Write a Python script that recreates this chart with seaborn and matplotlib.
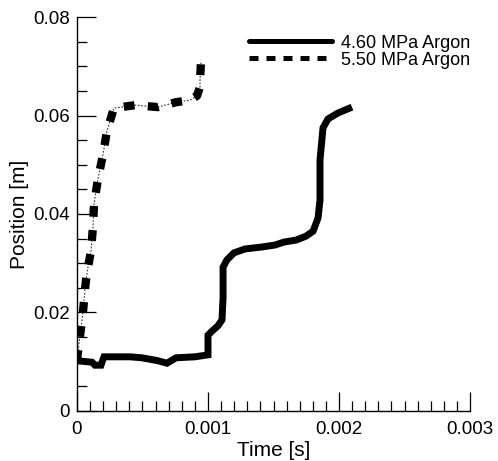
import matplotlib
matplotlib.use("Agg")
import matplotlib.pyplot as plt
from matplotlib.lines import Line2D
from matplotlib.ticker import FixedLocator, MultipleLocator
import seaborn as sns
import pandas as pd

# ---- data ----
t_460 = [0.0, 0.000115, 0.000137, 0.000183, 0.000206, 0.000405, 0.000496, 0.000618,
         0.000687, 0.000756, 0.000901, 0.001000, 0.001000, 0.001038, 0.001076, 0.001107,
         0.001115, 0.001115, 0.001145, 0.001198, 0.001282, 0.001412, 0.001511, 0.001580,
         0.001672, 0.001748, 0.001802, 0.001840, 0.001855, 0.001855, 0.001878, 0.001916,
         0.001992, 0.002099]
pos_460 = [0.0102, 0.0099, 0.0093, 0.0093, 0.0110, 0.0110, 0.0108, 0.0102,
           0.0097, 0.0108, 0.0110, 0.0114, 0.0154, 0.0164, 0.0173, 0.0185,
           0.0231, 0.0292, 0.0307, 0.0321, 0.0329, 0.0333, 0.0337, 0.0343,
           0.0347, 0.0355, 0.0365, 0.0392, 0.0428, 0.0510, 0.0575, 0.0593,
           0.0605, 0.0617]

t_550 = [0.0, 0.0000076, 0.0000229, 0.0000458, 0.000061, 0.000069, 0.000084, 0.000107,
         0.000122, 0.000130, 0.000160, 0.000198, 0.000229, 0.000282, 0.000443, 0.000618,
         0.000756, 0.000863, 0.000916, 0.000939, 0.000939, 0.000947]
pos_550 = [0.0102, 0.0120, 0.0152, 0.0201, 0.0246, 0.0266, 0.0292, 0.0325,
           0.0374, 0.0420, 0.0471, 0.0520, 0.0569, 0.0615, 0.0621, 0.0617,
           0.0627, 0.0631, 0.0640, 0.0658, 0.0672, 0.0711]

labels = ["4.60 MPa Argon", "5.50 MPa Argon"]
x_ticks = [0.0, 0.001, 0.002, 0.003]
x_tick_labels = ["0", "0.001", "0.002", "0.003"]
y_ticks = [0.0, 0.02, 0.04, 0.06, 0.08]
y_tick_labels = ["0", "0.02", "0.04", "0.06", "0.08"]
x_label = "Time [s]"
y_label = "Position [m]"

df_a = pd.DataFrame({"t": t_460, "pos": pos_460})
df_b = pd.DataFrame({"t": t_550, "pos": pos_550})

# ---- style ----
sns.set_style("ticks")
plt.rcParams["font.family"] = ["Liberation Sans", "DejaVu Sans"]
plt.rcParams["font.size"] = 13
plt.rcParams["text.color"] = "black"
plt.rcParams["axes.labelcolor"] = "black"
plt.rcParams["xtick.color"] = "black"
plt.rcParams["ytick.color"] = "black"

fig = plt.figure(figsize=(4.98, 4.61), dpi=100)
ax = fig.add_axes([0.1546, 0.1085, 0.7892, 0.8546])

sns.lineplot(data=df_a, x="t", y="pos", sort=False, estimator=None, ax=ax,
             color="black", linewidth=5.0, solid_joinstyle="miter",
             solid_capstyle="butt")
sns.lineplot(data=df_b, x="t", y="pos", sort=False, estimator=None, ax=ax,
             color="#333333", linewidth=0.8, linestyle=(0, (1.5, 1.5)))
sns.lineplot(data=df_b, x="t", y="pos", sort=False, estimator=None, ax=ax,
             color="black", linewidth=6.0, linestyle=(0, (1.3, 1.6)),
             dash_capstyle="butt")

ax.set_xlim(x_ticks[0], x_ticks[-1])
ax.set_ylim(y_ticks[0], y_ticks[-1])
ax.xaxis.set_major_locator(FixedLocator(x_ticks))
ax.set_xticklabels(x_tick_labels)
ax.yaxis.set_major_locator(FixedLocator(y_ticks))
ax.set_yticklabels(y_tick_labels)
ax.xaxis.set_minor_locator(MultipleLocator(0.0001))
ax.yaxis.set_minor_locator(MultipleLocator(0.005))

ax.tick_params(which="major", direction="in", length=13.5, width=0.9,
               labelsize=13.5, color="black", labelcolor="black")
ax.tick_params(which="minor", direction="in", length=7, width=0.9, color="black")
ax.tick_params(axis="y", which="major", pad=5)
ax.tick_params(axis="x", which="major", pad=7)

for s in ["top", "right"]:
    ax.spines[s].set_visible(False)
for s in ["left", "bottom"]:
    ax.spines[s].set_color("black")
    ax.spines[s].set_linewidth(1.0)

ax.set_xlabel(x_label, fontsize=15, labelpad=2.5, color="black")
ax.set_ylabel(y_label, fontsize=15, labelpad=3, color="black")

handles = [
    Line2D([], [], color="black", linewidth=3.6),
    Line2D([], [], color="black", linewidth=3.6, linestyle=(0, (1.8, 1.6)),
           dash_capstyle="butt"),
]
fig.legend(handles, labels, loc="upper left", bbox_to_anchor=(0.5, 0.925),
           frameon=False, fontsize=13, handlelength=4.6, handletextpad=0.5,
           labelspacing=0.0, borderpad=0, borderaxespad=0, labelcolor="black")

fig.savefig("out.png", dpi=100)
